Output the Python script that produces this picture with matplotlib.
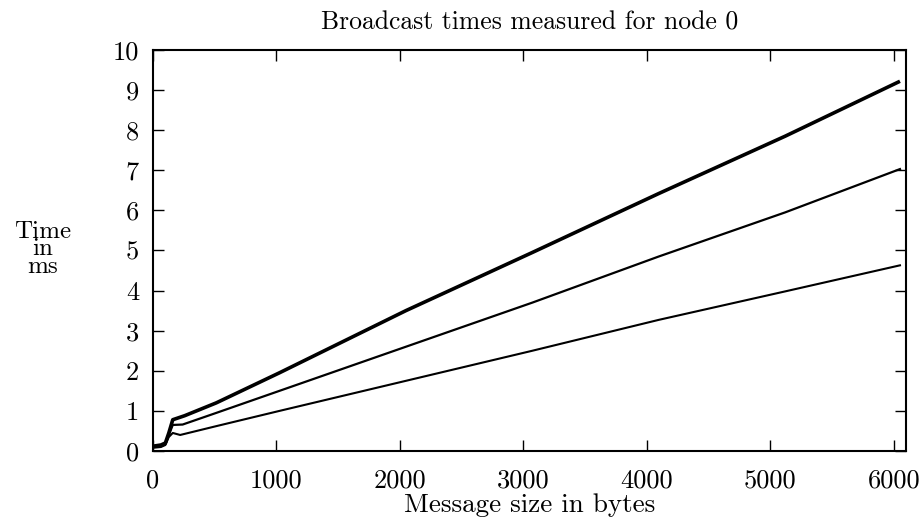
import matplotlib
matplotlib.use("Agg")
import matplotlib.pyplot as plt

plt.rcParams['font.family'] = ['cmr10', 'DejaVu Serif']
plt.rcParams['axes.formatter.use_mathtext'] = True

title = "Broadcast times measured for node 0"
xlabel = "Message size in bytes"
ylabel = "Time\nin\nms"

x_top = [0, 64, 100, 128, 160, 256, 512, 1024, 2048, 3072, 4096, 5120, 6050]
y_top = [0.12, 0.15, 0.2, 0.45, 0.78, 0.88, 1.2, 1.95, 3.5, 4.95, 6.42, 7.85, 9.22]

x_mid = [0, 64, 100, 128, 160, 240, 512, 1024, 2048, 3072, 4096, 5120, 6050]
y_mid = [0.1, 0.12, 0.17, 0.4, 0.65, 0.66, 0.95, 1.5, 2.6, 3.7, 4.85, 5.95, 7.03]

x_bot = [0, 64, 100, 128, 160, 220, 512, 1024, 2048, 3072, 4096, 5120, 6050]
y_bot = [0.08, 0.1, 0.15, 0.35, 0.45, 0.4, 0.62, 1.0, 1.75, 2.5, 3.27, 3.98, 4.63]

xticks = [0, 1000, 2000, 3000, 4000, 5000, 6000]
yticks = [0, 1, 2, 3, 4, 5, 6, 7, 8, 9, 10]

fig = plt.figure(figsize=(9.19, 5.19), dpi=100)
ax = fig.add_axes([0.1665, 0.131, 0.8195, 0.7727])

ax.plot(x_top, y_top, color='black', lw=2.6, solid_capstyle='butt')
ax.plot(x_mid, y_mid, color='black', lw=1.6)
ax.plot(x_bot, y_bot, color='black', lw=1.5)

ax.set_xlim(0, 6100)
ax.set_ylim(0, 10)
ax.set_xticks(xticks)
ax.set_yticks(yticks)
ax.set_xticklabels([str(v) for v in xticks])
ax.set_yticklabels([str(v) for v in yticks])
ax.tick_params(direction='in', top=True, right=True, length=8, width=1.0,
               labelsize=19, colors='black')
ax.tick_params(axis='x', pad=13)
ax.tick_params(axis='y', pad=10)
for s in ax.spines.values():
    s.set_linewidth(1.5)

ax.set_title(title, fontsize=18.5, pad=15)
ax.set_xlabel(xlabel, fontsize=19.5, labelpad=0)
fig.text(0.046, 0.52, ylabel, fontsize=18, ha='center', va='center',
         multialignment='center', linespacing=0.72)

fig.savefig("out.png", dpi=100)
